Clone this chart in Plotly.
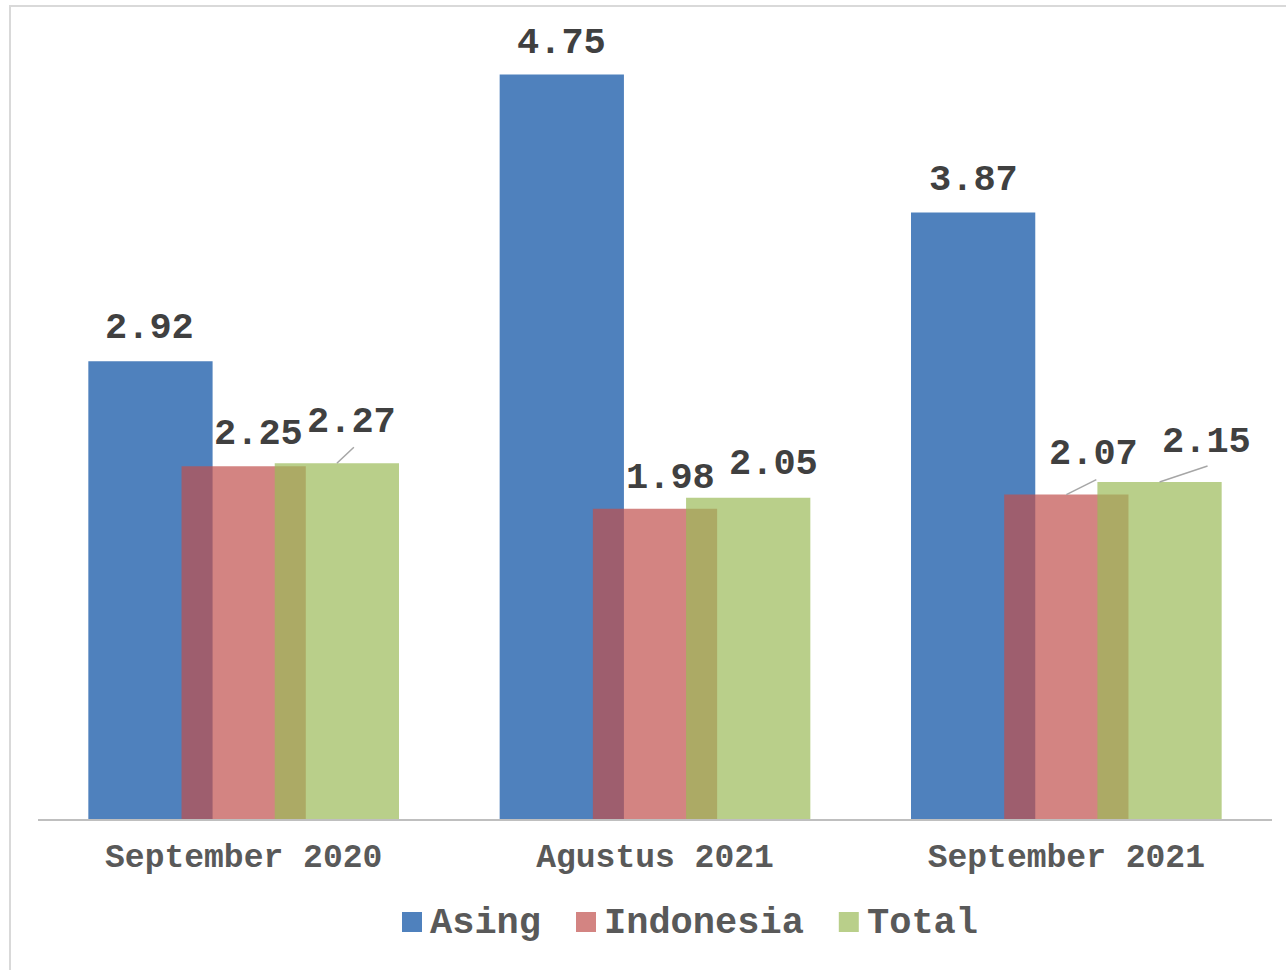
import plotly.graph_objects as go

# ---- data ----
categories = ["September 2020", "Agustus 2021", "September 2021"]
series_names = ["Asing", "Indonesia", "Total"]
asing = [2.92, 4.75, 3.87]
indonesia = [2.25, 1.98, 2.07]
total = [2.27, 2.05, 2.15]

# ---- style ----
colors = ["#4F81BD", "rgba(192,80,77,0.7)", "rgba(155,187,89,0.7)"]
GAP_WIDTH = 0.81
OVERLAP = 0.25
FONT = "Liberation Mono, Courier New, monospace"
W, H = 1286, 970
ML, MR, MT, MB = 38, 14, 51, 151

# label pixel offsets (dx from bar centre, gap from bar top to text baseline)
label_dx = [[-1, 0, 0], [15, 15, 27], [15, 25, 47]]
label_gap = [[22, 21, 21.5], [21, 19.5, 29.5], [30, 23, 29]]
# leader lines (pixel vectors), None = no leader
leaders = [[None, None, None], [None, None, (30, 15)], [(17, 16), None, (48, 16)]]

series = [asing, indonesia, total]
n = len(series)
w = 1.0 / (n - (n - 1) * OVERLAP + GAP_WIDTH)
step = w * (1 - OVERLAP)
first = -(w + (n - 1) * step) / 2
offsets = [first + k * step for k in range(n)]
xs = list(range(len(categories)))

fig = go.Figure()
for k, (name, vals) in enumerate(zip(series_names, series)):
    fig.add_trace(go.Bar(
        x=xs, y=vals, name=name, width=w, offset=offsets[k],
        marker=dict(color=colors[k], line=dict(width=0)),
        hoverinfo="skip", showlegend=False,
    ))

DESC = 12  # approx distance from annotation box bottom to baseline
for k, vals in enumerate(series):
    for i, v in enumerate(vals):
        cx = xs[i] + offsets[k] + w / 2
        fig.add_annotation(
            x=cx, y=v, xref="x", yref="y", text=f"{v:.2f}", showarrow=False,
            xanchor="center", yanchor="bottom",
            xshift=label_dx[k][i], yshift=label_gap[k][i] - DESC,
            font=dict(family=FONT, size=37, color="#404040", weight="bold"),
        )
        ld = leaders[k][i]
        if ld is not None:
            fig.add_shape(
                type="line", xref="x", yref="y", xsizemode="pixel", ysizemode="pixel",
                xanchor=cx, yanchor=v, x0=0, y0=0, x1=ld[0], y1=ld[1],
                line=dict(color="#A6A6A6", width=1.5),
            )

pw, ph = W - ML - MR, H - MT - MB
def px_x(p):
    return (p - ML) / pw
def px_y(p):
    return (H - MB - p) / ph

# chart border (light grey frame)
fig.add_shape(type="rect", xref="paper", yref="paper",
              x0=px_x(10), x1=px_x(1300), y0=px_y(990), y1=px_y(6),
              line=dict(color="#D9D9D9", width=2), fillcolor="rgba(0,0,0,0)", layer="below")

# legend (drawn as swatches + text, Excel style)
LEG_FS = 37
SW = 20
lx = 402
LEG_Y = 922
for k, name in enumerate(series_names):
    fig.add_shape(type="rect", xref="paper", yref="paper",
                  x0=px_x(lx), x1=px_x(lx + SW), y0=px_y(LEG_Y + 10), y1=px_y(LEG_Y - 10),
                  line=dict(width=0), fillcolor=colors[k])
    tx = lx + SW + 6
    fig.add_annotation(x=px_x(tx), y=px_y(LEG_Y + 1), xref="paper", yref="paper", text=name,
                       showarrow=False, xanchor="left", yanchor="middle",
                       font=dict(family=FONT, size=LEG_FS, color="#595959", weight="bold"))
    lx = tx + len(name) * 0.6 * LEG_FS + 37

fig.update_layout(
    width=W, height=H,
    margin=dict(l=ML, r=MR, t=MT, b=MB),
    paper_bgcolor="white", plot_bgcolor="white",
    barmode="overlay",
    showlegend=False,
    xaxis=dict(range=[-0.5, 2.5], tickmode="array", tickvals=xs, ticktext=categories,
               showgrid=False, zeroline=False, showline=True, linecolor="#BFBFBF", linewidth=2,
               ticks="", ticklabelstandoff=6,
               tickfont=dict(family=FONT, size=33, color="#595959", weight="bold")),
    yaxis=dict(range=[0, 4.9], visible=False, showgrid=False, zeroline=False),
)

fig.write_html("out.html", config={"displayModeBar": False},
               post_script="document.body.style.margin='0px';")
